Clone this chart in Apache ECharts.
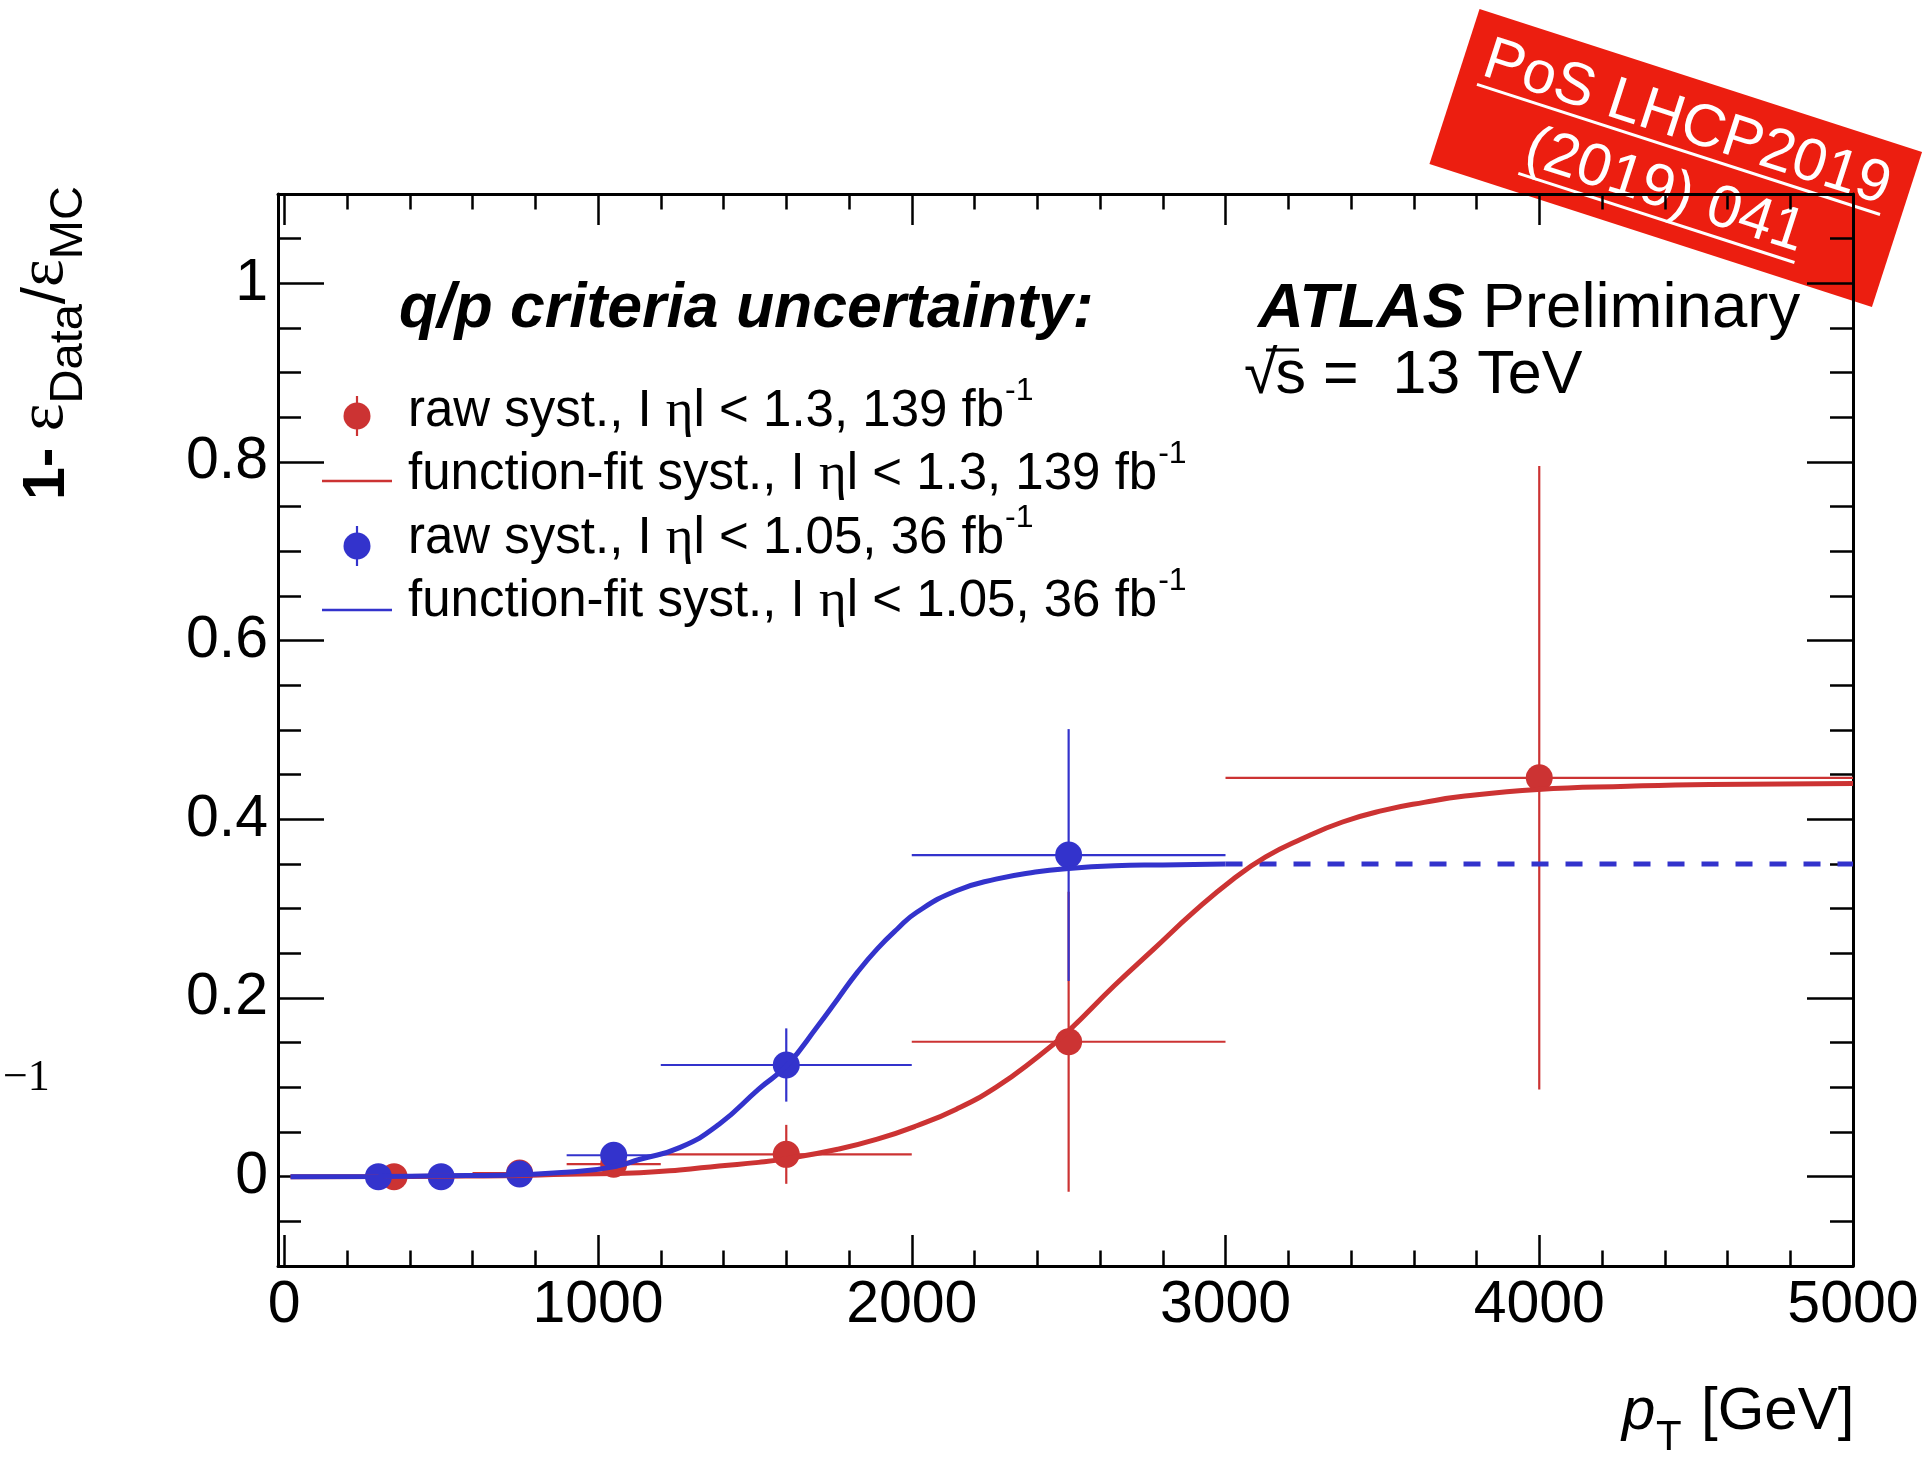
<!DOCTYPE html>
<html><head><meta charset="utf-8">
<script src="https://cdn.jsdelivr.net/npm/echarts@6/dist/echarts.min.js"></script>
<style>html,body{margin:0;padding:0;background:#fff;}#c{width:1927px;height:1457px;}</style>
</head><body><div id="c"></div>
<script>
const FONT = '"Liberation Sans", Arial, Helvetica, sans-serif';
const SERIF = '"Liberation Serif", "Times New Roman", serif';
const RED = '#cc3333', BLUE = '#3333cc', STAMP = '#ec1e10';

// axis ticks
const xMajorTicks = [0, 1000, 2000, 3000, 4000, 5000];
const xMinorTicks = [200, 400, 600, 800, 1200, 1400, 1600, 1800, 2200, 2400, 2600, 2800, 3200, 3400, 3600, 3800, 4200, 4400, 4600, 4800];
const yMajorTicks = [0, 0.2, 0.4, 0.6, 0.8, 1];
const yMinorTicks = [-0.05, 0.05, 0.1, 0.15, 0.25, 0.3, 0.35, 0.45, 0.5, 0.55, 0.65, 0.7, 0.75, 0.85, 0.9, 0.95, 1.05];

// raw syst., |eta| < 1.3, 139 fb-1
const redPt  = [350, 750, 1050, 1600, 2500, 4000];
const redVal = [0.000, 0.004, 0.014, 0.025, 0.151, 0.4465];
const redLo  = [350, 600, 900, 1200, 2000, 3000];
const redHi  = [350, 900, 1200, 2000, 3000, 5000];
const redErr = [0, 0, 0, 0.033, 0.168, 0.349];

// raw syst., |eta| < 1.05, 36 fb-1
const bluePt  = [300, 500, 750, 1050, 1600, 2500];
const blueVal = [0.000, 0.000, 0.003, 0.024, 0.125, 0.360];
const blueLo  = [300, 500, 600, 900, 1200, 2000];
const blueHi  = [300, 500, 900, 1200, 2000, 3000];
const blueErr = [0, 0, 0, 0, 0.041, 0.141];

// function-fit syst., |eta| < 1.3
const redFitX = [20, 300, 500, 700, 900, 1134, 1260, 1386, 1512, 1603, 1764, 1890, 2016, 2142, 2268, 2394, 2499, 2646, 2772, 2898, 3024, 3128, 3242, 3373, 3503, 3633, 3763, 3996, 4283, 4543, 5000];
const redFitY = [0.000, 0.0002, 0.0005, 0.001, 0.0027, 0.0045, 0.0075, 0.012, 0.016, 0.0202, 0.0307, 0.042, 0.057, 0.0755, 0.100, 0.132, 0.163, 0.214, 0.255, 0.296, 0.333, 0.358, 0.378, 0.397, 0.410, 0.419, 0.426, 0.4334, 0.437, 0.439, 0.440];

// function-fit syst., |eta| < 1.05 (solid part)
const blueFitX = [20, 300, 500, 700, 911, 1050, 1134, 1260, 1386, 1512, 1603, 1701, 1764, 1827, 1890, 1953, 2016, 2142, 2268, 2394, 2499, 2646, 2800, 3000];
const blueFitY = [0.000, 0.0003, 0.001, 0.0016, 0.0053, 0.011, 0.0195, 0.0325, 0.0587, 0.098, 0.125, 0.169, 0.199, 0.229, 0.255, 0.277, 0.296, 0.320, 0.333, 0.341, 0.345, 0.348, 0.349, 0.350];
// extrapolated (dashed) part
const blueDashX = [3000, 5000];
const blueDashY = [0.350, 0.350];

const pairs = (xs, ys) => xs.map((x, i) => [x, ys[i]]);

function errSeries(name, color, pts, vals, lo, hi, err) {
  return {
    type: 'custom', name: name, silent: true, animation: false,
    xAxisIndex: 0, yAxisIndex: 0,
    data: pts.map((p, i) => [p, vals[i], lo[i], hi[i], err[i]]),
    encode: { x: 0, y: 1 },
    renderItem: function (params, api) {
      const x = api.value(0), y = api.value(1), xl = api.value(2), xh = api.value(3), e = api.value(4);
      const ch = [];
      if (xh > xl) {
        const a = api.coord([xl, y]), b = api.coord([xh, y]);
        ch.push({ type: 'line', shape: { x1: a[0], y1: a[1], x2: b[0], y2: b[1] }, style: { stroke: color, lineWidth: 2.2 } });
      }
      if (e > 0) {
        const a = api.coord([x, y - e]), b = api.coord([x, y + e]);
        ch.push({ type: 'line', shape: { x1: a[0], y1: a[1], x2: b[0], y2: b[1] }, style: { stroke: color, lineWidth: 2.2 } });
      }
      return { type: 'group', children: ch };
    }
  };
}

function xAx(pos, major, showLabel) {
  return {
    type: 'value', position: pos, min: -20, max: 5000,
    axisLine: { show: major, onZero: false, lineStyle: { color: '#000', width: 3 } },
    axisTick: { show: true, inside: true, length: major ? 31 : 15.5, customValues: major ? xMajorTicks : xMinorTicks, lineStyle: { color: '#000', width: 2.5 } },
    axisLabel: { show: showLabel, customValues: xMajorTicks, fontSize: 59, fontFamily: FONT, color: '#000', margin: 10, formatter: v => String(v) },
    splitLine: { show: false }
  };
}
function yAx(pos, major, showLabel) {
  return {
    type: 'value', position: pos, min: -0.1, max: 1.1,
    axisLine: { show: major, onZero: false, lineStyle: { color: '#000', width: 3 } },
    axisTick: { show: true, inside: true, length: major ? 46 : 23, customValues: major ? yMajorTicks : yMinorTicks, lineStyle: { color: '#000', width: 2.5 } },
    axisLabel: { show: showLabel, customValues: yMajorTicks, fontSize: 59, fontFamily: FONT, color: '#000', margin: 10, formatter: v => String(v) },
    splitLine: { show: false }
  };
}

// text helpers
const mctx = document.createElement('canvas').getContext('2d');
function fontStr(p) { return [p.st || 'normal', p.w || 'normal', p.s + 'px', p.f || FONT].join(' '); }
function tw(text, font) { mctx.font = font; return mctx.measureText(text).width; }
function txt(text, x, baseY, p, align) {
  const font = fontStr(p);
  return { type: 'text', x: x, y: baseY - 0.347 * p.s,
    style: { text: text, font: font, fill: p.c || '#000', align: align || 'left', verticalAlign: 'middle', textAlign: align || 'left', textVerticalAlign: 'middle' } };
}
function flow(pieces) {
  let cx = 0; const out = [];
  pieces.forEach(p => {
    out.push(txt(p.t, cx + (p.dx || 0), p.dy || 0, p));
    cx += tw(p.t, fontStr(p)) + (p.dx || 0);
  });
  return out;
}
function flowGroup(pieces, x, y, rot, z) {
  return { type: 'group', x: x, y: y, rotation: rot || 0, z: z || 10, children: flow(pieces) };
}

const LS = 51, SUP = 32;
function legendText(label, eta, lumi) {
  return [
    { t: label + ', I ', s: LS },
    { t: 'η', s: LS + 2, f: SERIF },
    { t: 'l < ' + eta + ', ' + lumi + ' fb', s: LS },
    { t: '-1', s: SUP, dy: -28, dx: 1 }
  ];
}
function legendMarker(color, y) {
  return [
    { type: 'line', shape: { x1: 357, y1: y - 20, x2: 357, y2: y + 20 }, style: { stroke: color, lineWidth: 2.2 }, z: 10 },
    { type: 'circle', shape: { cx: 357, cy: y, r: 13.5 }, style: { fill: color }, z: 10 }
  ];
}
function legendLine(color, y) {
  return [{ type: 'line', shape: { x1: 322, y1: y, x2: 392, y2: y }, style: { stroke: color, lineWidth: 2.5 }, z: 10 }];
}

const graphics = [];
// header texts
graphics.push(flowGroup([{ t: 'q/p criteria uncertainty:', s: 62.5, st: 'italic', w: 'bold' }], 399, 331));
graphics.push(flowGroup([{ t: 'ATLAS', s: 63.5, st: 'italic', w: 'bold' }, { t: ' Preliminary', s: 63.5 }], 1258, 332));
graphics.push(flowGroup([{ t: '√', s: 61 }, { t: 's', s: 61, dx: -2 }, { t: ' =  13 TeV', s: 61 }], 1244, 397));
graphics.push({ type: 'line', shape: { x1: 1266, y1: 350, x2: 1299, y2: 350 }, style: { stroke: '#000', lineWidth: 3 }, z: 10 });

// legend
graphics.push(...legendMarker(RED, 416));
graphics.push(flowGroup(legendText('raw syst.', '1.3', '139'), 408, 430));
graphics.push(...legendLine(RED, 481));
graphics.push(flowGroup(legendText('function-fit syst.', '1.3', '139'), 408, 493));
graphics.push(...legendMarker(BLUE, 546));
graphics.push(flowGroup(legendText('raw syst.', '1.05', '36'), 408, 557));
graphics.push(...legendLine(BLUE, 610));
graphics.push(flowGroup(legendText('function-fit syst.', '1.05', '36'), 408, 620));

// y axis title (rotated)
graphics.push(flowGroup([
  { t: '1- ', s: 59, w: 'bold' },
  { t: 'ε', s: 66, f: SERIF },
  { t: 'Data', s: 47, dy: 17 },
  { t: '/', s: 62 },
  { t: 'ε', s: 66, f: SERIF },
  { t: 'MC', s: 47, dy: 17 }
], 68, 500, Math.PI / 2));

// x axis title
graphics.push(txt('p', 1622, 1433, { s: 60, st: 'italic' }));
graphics.push(txt('T', 1656, 1453, { s: 42 }));
graphics.push(txt('[GeV]', 1701, 1433, { s: 60 }));

// stray label at the left margin
graphics.push(txt('−1', 3, 1094, { s: 44, f: SERIF }));

// stamp
(function () {
  const fs = 60;
  const p = { s: fs, c: '#fff' };
  const l1 = 'PoS LHCP2019', l2 = '(2019) 041';
  const w1 = tw(l1, fontStr(p)), w2 = tw(l2, fontStr(p));
  graphics.push({ type: 'group', x: 1675.75, y: 158, rotation: -0.3124, z: 100, children: [
    { type: 'rect', shape: { x: -232.5, y: -81.5, width: 465, height: 163 }, style: { fill: STAMP } },
    txt(l1, 0, -15, p, 'center'),
    { type: 'line', shape: { x1: -w1 / 2, y1: -9, x2: w1 / 2, y2: -9 }, style: { stroke: '#fff', lineWidth: 3 } },
    txt(l2, 0, 56, p, 'center'),
    { type: 'line', shape: { x1: -w2 / 2, y1: 63, x2: w2 / 2, y2: 63 }, style: { stroke: '#fff', lineWidth: 3 } }
  ] });
})();

const chart = echarts.init(document.getElementById('c'), null, { renderer: 'canvas', width: 1927, height: 1457 });
chart.setOption({
  backgroundColor: '#fff',
  animation: false,
  grid: { left: 278, right: 74, top: 194, bottom: 191, containLabel: false },
  xAxis: [xAx('bottom', true, true), xAx('bottom', false, false), xAx('top', true, false), xAx('top', false, false)],
  yAxis: [yAx('left', true, true), yAx('left', false, false), yAx('right', true, false), yAx('right', false, false)],
  series: [
    { type: 'line', name: 'blueDash', data: pairs(blueDashX, blueDashY), showSymbol: false, silent: true,
      lineStyle: { color: BLUE, width: 5, type: [17, 17] } },
    errSeries('redErr', RED, redPt, redVal, redLo, redHi, redErr),
    { type: 'scatter', name: 'redPts', data: pairs(redPt, redVal), symbol: 'circle', symbolSize: 27, itemStyle: { color: RED, opacity: 1 }, silent: true },
    { type: 'line', name: 'redFit', data: pairs(redFitX, redFitY), showSymbol: false, smooth: 0.5, silent: true,
      lineStyle: { color: RED, width: 5 } },
    errSeries('blueErr', BLUE, bluePt, blueVal, blueLo, blueHi, blueErr),
    { type: 'scatter', name: 'bluePts', data: pairs(bluePt, blueVal), symbol: 'circle', symbolSize: 27, itemStyle: { color: BLUE, opacity: 1 }, silent: true },
    { type: 'line', name: 'blueFit', data: pairs(blueFitX, blueFitY), showSymbol: false, smooth: 0.5, silent: true,
      lineStyle: { color: BLUE, width: 5 } }
  ],
  graphic: { elements: graphics }
});
</script>
</body></html>
